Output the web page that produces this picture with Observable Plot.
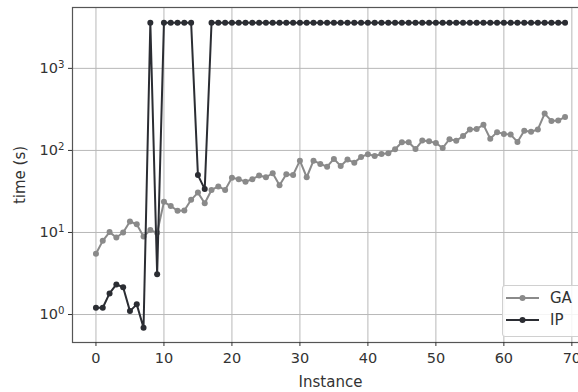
<!DOCTYPE html>
<html>
<head>
<meta charset="utf-8">
<script src="https://cdn.jsdelivr.net/npm/d3@7"></script>
<script src="https://cdn.jsdelivr.net/npm/@observablehq/plot@0.6"></script>
<style>
  html, body { margin: 0; padding: 0; background: #fff; }
  #wrap { position: relative; width: 578px; height: 392px; overflow: hidden; font-family: "DejaVu Sans", sans-serif; }
  #legend { position: absolute; left: 502px; top: 285px; width: 100px; height: 52px;
            border: 1px solid #d0d0d0; border-radius: 3px; background: rgba(255,255,255,0.85);
            box-sizing: border-box; }
  .entry { position: absolute; left: 3px; height: 20px; display: flex; align-items: center;
           font-size: 15px; color: #333; }
  .entry svg { margin-right: 11px; }
</style>
</head>
<body>
<div id="wrap"><div id="chart"></div><div id="legend"></div></div>
<script>
// Solve time per benchmark instance (seconds, log scale)
const seriesNames = ["GA", "IP"];
const seriesColors = ["#8a8a8a", "#2b2d33"];

const gaTime = [
  5.5, 7.9, 10.1, 8.7, 10.0, 13.6, 12.6, 8.9, 10.7, 9.9,
  23.6, 21, 18.4, 18.5, 25, 30.6, 22.7, 33, 36.4, 33,
  46.6, 44.5, 41.6, 44.6, 49.5, 47.1, 52.7, 37.6, 51.2, 50.3,
  75.1, 47.1, 75, 68.4, 63.4, 78.8, 64.7, 77.3, 71, 83.3,
  89.8, 85.7, 90.6, 92.5, 103.5, 126, 126, 104, 132, 129,
  123, 107, 137, 131, 150, 180, 183, 205, 139, 167,
  159, 156, 127, 174, 169, 180, 281, 229, 231, 256
];

const ipTime = [
  1.21, 1.21, 1.81, 2.33, 2.15, 1.10, 1.33, 0.69, 3600, 3.09,
  3600, 3600, 3600, 3600, 3600, 50, 33.8, 3600, 3600, 3600,
  3600, 3600, 3600, 3600, 3600, 3600, 3600, 3600, 3600, 3600,
  3600, 3600, 3600, 3600, 3600, 3600, 3600, 3600, 3600, 3600,
  3600, 3600, 3600, 3600, 3600, 3600, 3600, 3600, 3600, 3600,
  3600, 3600, 3600, 3600, 3600, 3600, 3600, 3600, 3600, 3600,
  3600, 3600, 3600, 3600, 3600, 3600, 3600, 3600, 3600, 3600
];

const xTicks = [0, 10, 20, 30, 40, 50, 60, 70];
const yTicks = [1, 10, 100, 1000];
const exponentOf = v => String(Math.round(Math.log10(v)));

const rows = [];
[gaTime, ipTime].forEach((vals, s) => vals.forEach((t, i) => rows.push({instance: i, time: t, series: seriesNames[s]})));
const ga = rows.filter(d => d.series === "GA");
const ip = rows.filter(d => d.series === "IP");

const chart = Plot.plot({
  width: 578,
  height: 392,
  marginTop: 7,
  marginBottom: 50,
  marginLeft: 72,
  marginRight: -10,
  style: {fontFamily: "DejaVu Sans, sans-serif", fontSize: "14.5px", color: "#333", background: "#fff"},
  x: {domain: [-3.45, 72.45]},
  y: {type: "log", domain: [0.456, 5520]},
  marks: [
    Plot.gridX(xTicks, {stroke: "#b8b8b8", strokeOpacity: 1, strokeWidth: 1}),
    Plot.gridY(yTicks, {stroke: "#b8b8b8", strokeOpacity: 1, strokeWidth: 1}),
    Plot.frame({stroke: "#555", strokeWidth: 1.2}),
    Plot.axisX(xTicks, {tickSize: 4, tickPadding: 6, fontSize: 14.5, label: "Instance", labelAnchor: "center", labelArrow: "none", labelOffset: 44}),
    Plot.axisY(yTicks, {tickSize: 4, tickPadding: 4, fontSize: 14.5, tickFormat: v => "10^" + exponentOf(v), label: "time (s)", labelAnchor: "center", labelArrow: "none", labelOffset: 58}),
    Plot.line(ga, {x: "instance", y: "time", stroke: seriesColors[0], strokeWidth: 2}),
    Plot.dot(ga, {x: "instance", y: "time", fill: seriesColors[0], r: 3}),
    Plot.line(ip, {x: "instance", y: "time", stroke: seriesColors[1], strokeWidth: 2}),
    Plot.dot(ip, {x: "instance", y: "time", fill: seriesColors[1], r: 3})
  ]
});
const svg = d3.select(chart);
svg.selectAll("[aria-label='x-axis label'] text, [aria-label='y-axis label'] text").style("font-size", "15px");
// Render the power-of-ten tick labels with a raised exponent
svg.selectAll("[aria-label='y-axis tick label'] text").each(function () {
  const parts = this.textContent.split("^");
  if (parts.length !== 2) return;
  const t = d3.select(this);
  t.text(parts[0]);
  t.append("tspan").attr("dy", "-0.5em").attr("font-size", "10.2px").text(parts[1]);
});
document.getElementById("chart").appendChild(chart);

// Legend
const legend = d3.select("#legend");
seriesNames.forEach((name, i) => {
  const e = legend.append("div").attr("class", "entry").style("top", (2 + i * 22) + "px");
  const s = e.append("svg").attr("width", 33).attr("height", 10);
  s.append("line").attr("x1", 0).attr("x2", 33).attr("y1", 5).attr("y2", 5)
    .attr("stroke", seriesColors[i]).attr("stroke-width", 2);
  s.append("circle").attr("cx", 16.5).attr("cy", 5).attr("r", 3).attr("fill", seriesColors[i]);
  e.append("span").text(name);
});
</script>
</body>
</html>
